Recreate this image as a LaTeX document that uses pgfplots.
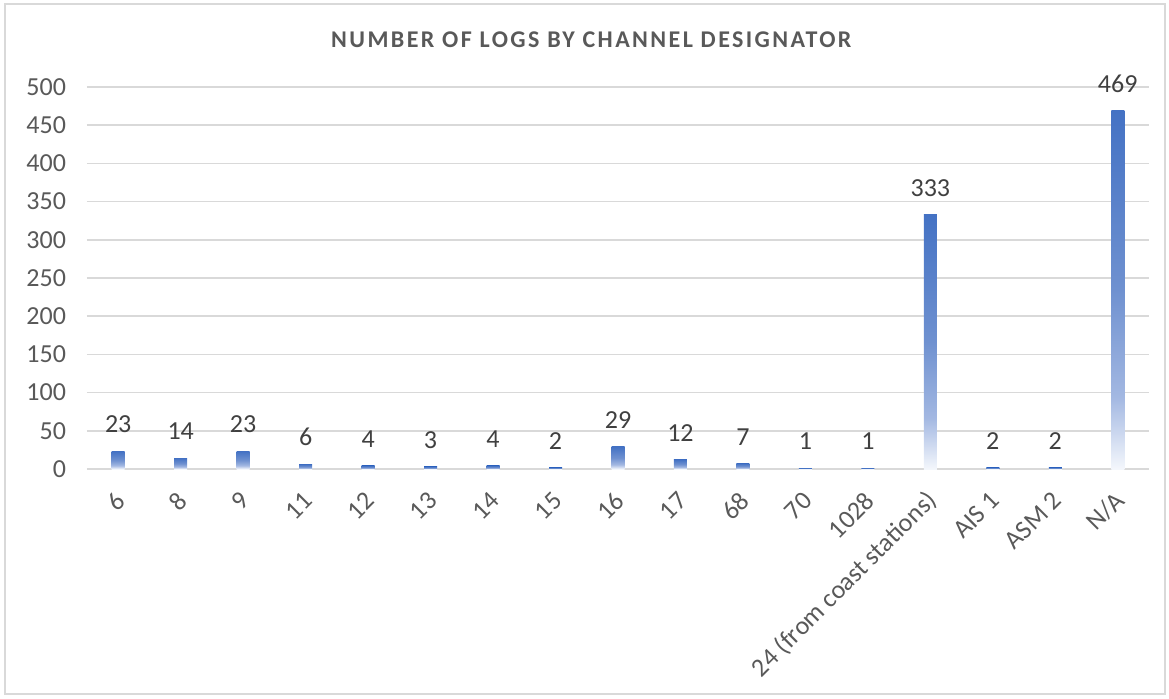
\documentclass[border=0pt]{standalone}
\usepackage{pgfplots}
\pgfplotsset{compat=1.18}
\usepackage{fontspec}
\setmainfont{Carlito}
\definecolor{barblue}{HTML}{4472C4}
\definecolor{barmid}{HTML}{6F91D0}
\definecolor{barlight}{HTML}{A3B8E2}
\definecolor{barwhite}{HTML}{F4F7FC}
\definecolor{txtgray}{HTML}{595959}
\definecolor{lblgray}{HTML}{404040}
\definecolor{gridgray}{HTML}{D9D9D9}
\definecolor{framegray}{HTML}{D9D9D9}
\pgfdeclareverticalshading{excelbar}{100bp}{color(0bp)=(barwhite); color(25bp)=(barwhite); color(35bp)=(barlight); color(50bp)=(barmid); color(75bp)=(barblue); color(100bp)=(barblue)}
\pgfplotsset{exbar/.style={ybar, bar width=6.5pt, bar shift=0pt, draw=none, shade, shading=excelbar}}
\begin{document}
\begin{tikzpicture}
\path[use as bounding box] (-43.5pt,-114.5pt) rectangle (541pt,234.5pt);
\draw[framegray, line width=0.6pt] (-41pt,-112.5pt) rectangle (539pt,232.5pt);
\begin{axis}[
  at={(0pt,0pt)}, anchor=south west,
  scale only axis, width=531pt, height=191pt,
  xmin=-0.5, xmax=16.5, ymin=0, ymax=500,
  ytick={0,50,...,500},
  xtick={0,...,16},
  xticklabels={6,8,9,11,12,13,14,15,16,17,68,70,1028,24 (from coast stations),AIS 1,ASM 2,N/A},
  ymajorgrids,
  major grid style={gridgray, line width=0.8pt},
  axis line style={draw=none},
  major tick length=0pt,
  /pgf/number format/assume math mode=true,
  tick label style={font=\fontsize{13}{15}\selectfont, text=txtgray},
  yticklabel style={xshift=-7pt},
  xticklabel style={rotate=45, anchor=east, yshift=-10.5pt, xshift=-5.5pt},
  title={\textbf{NUMBER OF LOGS BY CHANNEL DESIGNATOR}},
  title style={at={(axis description cs:0.476,1)}, anchor=center, yshift=17.5pt, font=\fontsize{12}{14}\selectfont\addfontfeature{LetterSpace=10}, text=txtgray},
  nodes near coords,
  nodes near coords style={font=\fontsize{13}{15}\selectfont, text=lblgray, inner sep=3pt, yshift=6pt},
]
\addplot[exbar] coordinates {(0,23)};
\addplot[exbar] coordinates {(1,14)};
\addplot[exbar] coordinates {(2,23)};
\addplot[exbar] coordinates {(3,6)};
\addplot[exbar] coordinates {(4,4)};
\addplot[exbar] coordinates {(5,3)};
\addplot[exbar] coordinates {(6,4)};
\addplot[exbar] coordinates {(7,2)};
\addplot[exbar] coordinates {(8,29)};
\addplot[exbar] coordinates {(9,12)};
\addplot[exbar] coordinates {(10,7)};
\addplot[exbar] coordinates {(11,1)};
\addplot[exbar] coordinates {(12,1)};
\addplot[exbar] coordinates {(13,333)};
\addplot[exbar] coordinates {(14,2)};
\addplot[exbar] coordinates {(15,2)};
\addplot[exbar] coordinates {(16,469)};
\end{axis}
\end{tikzpicture}
\end{document}
